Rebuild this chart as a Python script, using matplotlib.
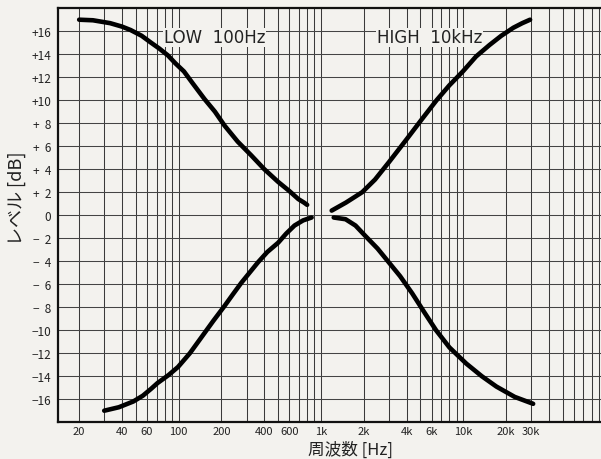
import matplotlib
matplotlib.use("Agg")
import matplotlib.pyplot as plt
from matplotlib.ticker import FixedLocator, NullFormatter

plt.rcParams['font.family'] = ['Noto Sans CJK JP', 'DejaVu Sans']

# curves (Hz, dB)
low_boost_f = [20, 25, 33, 40, 46, 55, 64, 73, 84, 95, 109, 125, 152, 180, 210,
               260, 324, 400, 500, 600, 694, 760, 800]
low_boost_db = [17.0, 16.95, 16.7, 16.4, 16.1, 15.6, 15.0, 14.5, 13.9, 13.2, 12.5,
                11.5, 10.1, 9.0, 7.8, 6.4, 5.2, 4.0, 2.9, 2.1, 1.4, 1.1, 0.9]

low_cut_f = [30, 38, 48, 56, 64, 71, 85, 99, 120, 143, 175, 210, 240, 275, 315,
             361, 420, 500, 570, 652, 750, 860]
low_cut_db = [-17.0, -16.7, -16.2, -15.7, -15.1, -14.6, -13.9, -13.2, -12.0, -10.7,
              -9.2, -7.9, -6.9, -5.9, -5.0, -4.1, -3.2, -2.4, -1.6, -0.9, -0.45, -0.2]

high_boost_f = [1190, 1500, 1950, 2400, 3000, 4000, 5160, 6500, 8000, 9940, 12300,
                15300, 18500, 22500, 26000, 29500]
high_boost_db = [0.4, 1.1, 2.0, 3.1, 4.6, 6.6, 8.4, 10.0, 11.3, 12.5, 13.8, 14.8,
                 15.6, 16.3, 16.7, 17.0]

high_cut_f = [1230, 1490, 1750, 2050, 2500, 3000, 3600, 4380, 5300, 6440, 8000,
              10500, 13500, 17100, 23000, 31000]
high_cut_db = [-0.2, -0.35, -0.9, -1.8, -2.9, -4.1, -5.3, -6.8, -8.4, -10.0, -11.5,
               -12.9, -14.0, -14.9, -15.8, -16.4]

x_ticks = [20, 40, 60, 100, 200, 400, 600, 1000, 2000, 4000, 6000, 10000, 20000, 30000]
x_labels = ['20', '40', '60', '100', '200', '400', '600', '1k', '2k', '4k', '6k', '10k', '20k', '30k']
y_ticks = list(range(-16, 17, 2))
y_labels = []
for v in y_ticks:
    if v > 0:
        y_labels.append('+%2d' % v if v >= 10 else '+  %d' % v)
    elif v < 0:
        y_labels.append('−%d' % -v if v <= -10 else '−  %d' % -v)
    else:
        y_labels.append('0')

paper = '#f3f2ee'
fig = plt.figure(figsize=(6.01, 4.60), dpi=100, facecolor=paper)
ax = fig.add_axes([0.0965, 0.080, 0.91, 0.900])
ax.set_facecolor(paper)

ax.set_xscale('log')
ax.set_xlim(14.2, 99000)
ax.set_ylim(-18, 18)

# graph paper grid
minor = [m * 10 ** e for e in range(1, 5) for m in range(1, 10)]
ax.xaxis.set_minor_locator(FixedLocator(minor))
ax.xaxis.set_minor_formatter(NullFormatter())
ax.set_xticks(x_ticks)
ax.set_xticklabels(x_labels)
ax.set_yticks(y_ticks)
ax.set_yticklabels(y_labels)
ax.grid(True, which='both', axis='x', color='#3a3a3a', lw=0.75)
ax.grid(True, which='major', axis='y', color='#444444', lw=0.75)
ax.tick_params(which='both', length=0, labelsize=8.5, colors='#222222', pad=5)
ax.tick_params(axis='x', labelsize=8, pad=3)

for s in ['left', 'bottom', 'top']:
    ax.spines[s].set_linewidth(1.6)
    ax.spines[s].set_color('#111111')
ax.spines['right'].set_visible(False)

kw = dict(color='black', lw=3.3, solid_capstyle='round', solid_joinstyle='round')
ax.plot(low_boost_f, low_boost_db, **kw)
ax.plot(low_cut_f, low_cut_db, **kw)
ax.plot(high_boost_f, high_boost_db, **kw)
ax.plot(high_cut_f, high_cut_db, **kw)

ax.text(0.193, 0.93, 'LOW  100Hz', transform=ax.transAxes, fontsize=12,
        family=['DejaVu Sans'], va='center', ha='left', color='#222222',
        bbox=dict(facecolor=paper, edgecolor='none', pad=0.5))
ax.text(0.583, 0.93, 'HIGH  10kHz', transform=ax.transAxes, fontsize=12,
        family=['DejaVu Sans'], va='center', ha='left', color='#222222',
        bbox=dict(facecolor=paper, edgecolor='none', pad=0.5))

ax.set_ylabel('レベル [dB]', fontsize=13, color='#222222')
ax.yaxis.set_label_coords(-0.058, 0.543)
ax.set_xlabel('周波数 [Hz]', fontsize=12, color='#222222')
ax.xaxis.set_label_coords(0.535, -0.044)

fig.savefig('out.png', dpi=100, facecolor=paper)
